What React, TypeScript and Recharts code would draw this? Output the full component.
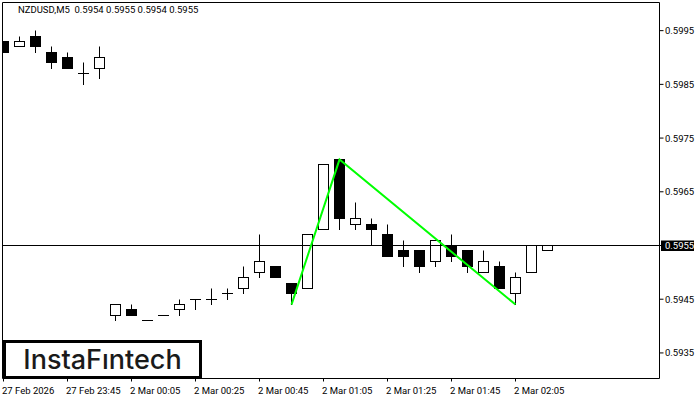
import { ComposedChart, Bar, Line, XAxis, YAxis, ReferenceLine } from 'recharts';

const opens = [0.5993, 0.5992, 0.5994, 0.5991, 0.599, 0.5987, 0.5988, 0.5942, 0.5943, 0.5941, 0.5942, 0.5943, 0.5945, 0.5945, 0.5946, 0.5947, 0.595, 0.5951, 0.5948, 0.5947, 0.5958, 0.5971, 0.5959, 0.5959, 0.5957, 0.5954, 0.5954, 0.5952, 0.5955, 0.5954, 0.595, 0.5951, 0.5946, 0.595, 0.5954];
const highs = [0.5993, 0.5994, 0.5995, 0.5992, 0.5991, 0.5989, 0.5992, 0.5944, 0.5944, 0.5941, 0.5942, 0.5945, 0.5945, 0.5947, 0.5947, 0.5951, 0.5957, 0.5951, 0.5948, 0.5957, 0.597, 0.5971, 0.5963, 0.596, 0.5959, 0.5956, 0.5954, 0.5956, 0.5957, 0.5954, 0.5954, 0.5952, 0.595, 0.5955, 0.5955];
const lows = [0.5991, 0.5992, 0.5991, 0.5988, 0.5988, 0.5985, 0.5986, 0.5941, 0.5942, 0.5941, 0.5942, 0.5942, 0.5943, 0.5944, 0.5945, 0.5946, 0.5949, 0.5949, 0.5944, 0.5947, 0.5958, 0.5958, 0.5958, 0.5955, 0.5953, 0.5951, 0.595, 0.5951, 0.5952, 0.595, 0.595, 0.5947, 0.5944, 0.595, 0.5954];
const closes = [0.5991, 0.5993, 0.5992, 0.5989, 0.5988, 0.5987, 0.599, 0.5944, 0.5942, 0.5941, 0.5942, 0.5944, 0.5945, 0.5945, 0.5946, 0.5949, 0.5952, 0.5949, 0.5946, 0.5957, 0.597, 0.596, 0.596, 0.5958, 0.5953, 0.5953, 0.5951, 0.5956, 0.5953, 0.5951, 0.5952, 0.5947, 0.5949, 0.5955, 0.5955];

// double top pattern drawn over the candles: bar index -> price
const patternBars = [18, 21, 32];
const patternPrices = [0.5944, 0.5971, 0.5944];

const timeLabels = ['27 Feb 2026', '27 Feb 23:45', '2 Mar 00:05', '2 Mar 00:25', '2 Mar 00:45', '2 Mar 01:05', '2 Mar 01:25', '2 Mar 01:45', '2 Mar 02:05'];
const timeTicks = [0, 4, 8, 12, 16, 20, 24, 28, 32];
const priceTicks = [0.5995, 0.5985, 0.5975, 0.5965, 0.5955, 0.5945, 0.5935];
const lastPrice = 0.5955;
const header = 'NZDUSD,M5  0.5954 0.5955 0.5954 0.5955';

const table = opens.map((open, i) => {
  const p = patternBars.indexOf(i);
  return {
    i,
    open,
    close: closes[i],
    high: highs[i],
    low: lows[i],
    range: [lows[i], highs[i]],
    pattern: p >= 0 ? patternPrices[p] : null,
  };
});

const W = 700;
const H = 400;
const PLOT_H = 376;
const Y_MIN = 0.593024;
const Y_MAX = 0.600024;
const X_MIN = -0.0625;
const X_MAX = 41;
const FONT = 'Roboto, sans-serif';
const FONT_SIZE = 9.5;
const snap = (v: number) => Math.floor(v) + 0.5;

const Candle = (props: any) => {
  const { x, y, width, payload } = props;
  const perPrice = PLOT_H / (Y_MAX - Y_MIN);
  const cx = snap(x + width / 2);
  const yOf = (price: number) => snap(y + (payload.high - price) * perPrice + 0.001);
  const top = yOf(Math.max(payload.open, payload.close));
  const bottom = yOf(Math.min(payload.open, payload.close));
  const up = payload.close >= payload.open;
  return (
    <g>
      <line x1={cx} x2={cx} y1={yOf(payload.high)} y2={yOf(payload.low) + 0.5} stroke="#000" strokeWidth={1} />
      {top === bottom ? (
        <line x1={cx - 5.5} x2={cx + 5.5} y1={top} y2={top} stroke="#000" strokeWidth={1} />
      ) : (
        <rect x={cx - 5} y={top} width={10} height={bottom - top} fill={up ? '#fff' : '#000'} stroke="#000" strokeWidth={1} />
      )}
    </g>
  );
};

const TimeTick = (props: any) => {
  const { x, y, index } = props;
  return (
    <text x={x - 1.5} y={y + 10} fontSize={FONT_SIZE} fontFamily={FONT} fill="#000" textAnchor="start">
      {timeLabels[index]}
    </text>
  );
};

const PriceTick = (props: any) => {
  const { y, payload } = props;
  const isLast = payload.value === lastPrice;
  return (
    <g>
      {isLast && <rect x={661} y={y - 5} width={33} height={10.5} fill="#000" />}
      <text x={665} y={y + 3.5} fontSize={FONT_SIZE} fontFamily={FONT} fill={isLast ? '#fff' : '#000'} textAnchor="start">
        {payload.value.toFixed(4)}
      </text>
    </g>
  );
};

export default function App() {
  return (
    <div style={{ position: 'absolute', left: 0, top: 0, width: W, height: H, background: '#fff', overflow: 'hidden' }}>
      <ComposedChart width={W} height={H} data={table} margin={{ top: 2.5, right: 0, bottom: 0, left: 2.5 }}>
        <XAxis
          dataKey="i"
          type="number"
          domain={[X_MIN, X_MAX]}
          allowDataOverflow
          ticks={timeTicks}
          interval={0}
          height={21.5}
          tickSize={3}
          tick={<TimeTick />}
          stroke="#000"
        />
        <YAxis
          orientation="right"
          type="number"
          domain={[Y_MIN, Y_MAX]}
          allowDataOverflow
          ticks={priceTicks}
          interval={0}
          width={40.5}
          tickSize={4}
          tick={<PriceTick />}
          stroke="#000"
        />
        <ReferenceLine x={X_MIN} stroke="#000" />
        <ReferenceLine y={Y_MAX} stroke="#000" />
        <ReferenceLine y={lastPrice} stroke="#000" />
        <Bar dataKey="range" barSize={10} shape={<Candle />} isAnimationActive={false} />
        <Line dataKey="pattern" connectNulls stroke="#00ff00" strokeWidth={2} dot={false} isAnimationActive={false} />
      </ComposedChart>
      <div style={{ position: 'absolute', left: 18, top: 4, font: `${FONT_SIZE}px ${FONT}`, whiteSpace: 'pre', color: '#000' }}>{header}</div>
      <div
        style={{
          position: 'absolute',
          left: 3,
          top: 340,
          width: 193,
          height: 33,
          border: '3px solid #000',
          background: '#fff',
          font: `500 27px Inter, sans-serif`,
          color: '#1a1a1a',
          textAlign: 'center',
          lineHeight: '33px',
        }}
      >
        InstaFıntech
      </div>
    </div>
  );
}
